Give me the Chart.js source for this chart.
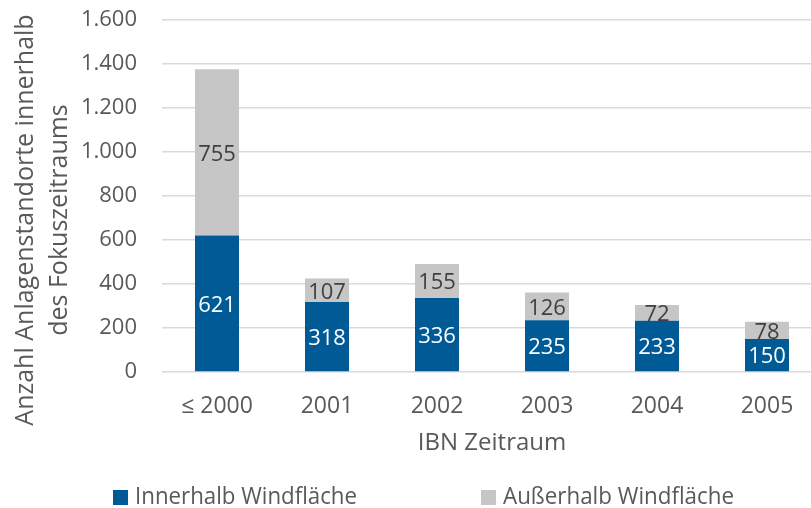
<!DOCTYPE html>
<html>
<head>
<meta charset="utf-8">
<script src="https://cdn.jsdelivr.net/npm/chart.js@4/dist/chart.umd.min.js"></script>
<style>
  html, body { margin: 0; padding: 0; background: #fff; overflow: hidden; }
  #wrap { width: 822px; height: 508px; }
</style>
</head>
<body>
<div id="wrap"><canvas id="chart"></canvas></div>
<script>
// Daten
var categories = ['≤ 2000', '2001', '2002', '2003', '2004', '2005'];
var innerhalb = [621, 318, 336, 235, 233, 150];
var ausserhalb = [755, 107, 155, 126, 72, 78];
var seriesNames = ['Innerhalb Windfläche', 'Außerhalb Windfläche'];
var yTitle = ['Anzahl Anlagenstandorte innerhalb', 'des Fokuszeitraums'];
var xTitle = 'IBN Zeitraum';

var blue = '#005a96';
var grey = '#c6c6c6';
var textColor = '#595959';
var fontFam = '"Open Sans", "DejaVu Sans", sans-serif';

var fmt = function (v) {
    return v.toLocaleString('de-DE');
};

// Werte in den Balken + Achsentitel links + Legende unten
var extras = {
    id: 'extras',
    afterDatasetsDraw: function (chart) {
        var ctx = chart.ctx;
        ctx.save();
        ctx.font = '22px ' + fontFam;
        ctx.textAlign = 'center';
        ctx.textBaseline = 'middle';
        chart.data.datasets.forEach(function (ds, di) {
            var meta = chart.getDatasetMeta(di);
            meta.data.forEach(function (bar, i) {
                var mid = (bar.y + bar.base) / 2;
                ctx.fillStyle = di === 0 ? '#ffffff' : '#404040';
                ctx.fillText(fmt(ds.data[i]), bar.x, mid + 2);
            });
        });
        ctx.restore();
    },
    afterDraw: function (chart) {
        var ctx = chart.ctx;
        ctx.save();
        // y-Achsentitel
        ctx.fillStyle = textColor;
        ctx.font = '25px ' + fontFam;
        ctx.textAlign = 'center';
        ctx.textBaseline = 'middle';
        ctx.translate(26, 220);
        ctx.rotate(-Math.PI / 2);
        ctx.fillText(yTitle[0], 0, 0);
        ctx.fillText(yTitle[1], 0, 34);
        ctx.restore();

        // Legende
        ctx.save();
        ctx.font = '23px ' + fontFam;
        ctx.textBaseline = 'middle';
        ctx.textAlign = 'left';
        var xs = [113, 481];
        var widths = [222, 231];
        chart.data.datasets.forEach(function (ds, di) {
            ctx.fillStyle = ds.backgroundColor;
            ctx.fillRect(xs[di], 490, 15, 15);
            ctx.fillStyle = textColor;
            ctx.save();
            ctx.translate(xs[di] + 22, 497);
            var w = ctx.measureText(ds.label).width;
            ctx.scale(widths[di] / w, 1);
            ctx.fillText(ds.label, 0, 0);
            ctx.restore();
        });
        ctx.restore();
    }
};

var config = {
    type: 'bar',
    data: {
        labels: categories,
        datasets: [{
            label: seriesNames[0],
            data: innerhalb,
            backgroundColor: blue,
            barPercentage: 0.4,
            categoryPercentage: 1
        }, {
            label: seriesNames[1],
            data: ausserhalb,
            backgroundColor: grey,
            barPercentage: 0.4,
            categoryPercentage: 1
        }]
    },
    options: {
        responsive: true,
        maintainAspectRatio: false,
        animation: false,
        layout: { padding: { top: 20, right: 0, bottom: 50, left: 0 } },
        plugins: {
            legend: { display: false },
            tooltip: { enabled: false }
        },
        scales: {
            x: {
                stacked: true,
                grid: { display: false, drawTicks: false },
                border: { display: false },
                ticks: {
                    color: textColor,
                    padding: 21,
                    font: { family: fontFam, size: 23 },
                    maxRotation: 0
                },
                title: {
                    display: true,
                    text: xTitle,
                    color: textColor,
                    font: { family: fontFam, size: 24 },
                    padding: { top: 4, bottom: 0 }
                },
                afterFit: function (scale) {
                    scale.height = 86;
                    scale.paddingLeft = 0;
                    scale.paddingRight = 0;
                }
            },
            y: {
                stacked: true,
                min: 0,
                max: 1600,
                grid: { color: '#d9d9d9', lineWidth: 1.5, drawTicks: false },
                border: { display: false },
                ticks: {
                    stepSize: 200,
                    color: textColor,
                    padding: 25,
                    font: { family: fontFam, size: 22 },
                    callback: function (v) { return fmt(v); }
                },
                afterFit: function (scale) {
                    scale.width = 162;
                    scale.paddingTop = 0;
                    scale.paddingBottom = 0;
                }
            }
        }
    },
    plugins: [extras]
};

var myChart = new Chart(document.getElementById('chart'), config);
</script>
</body>
</html>
